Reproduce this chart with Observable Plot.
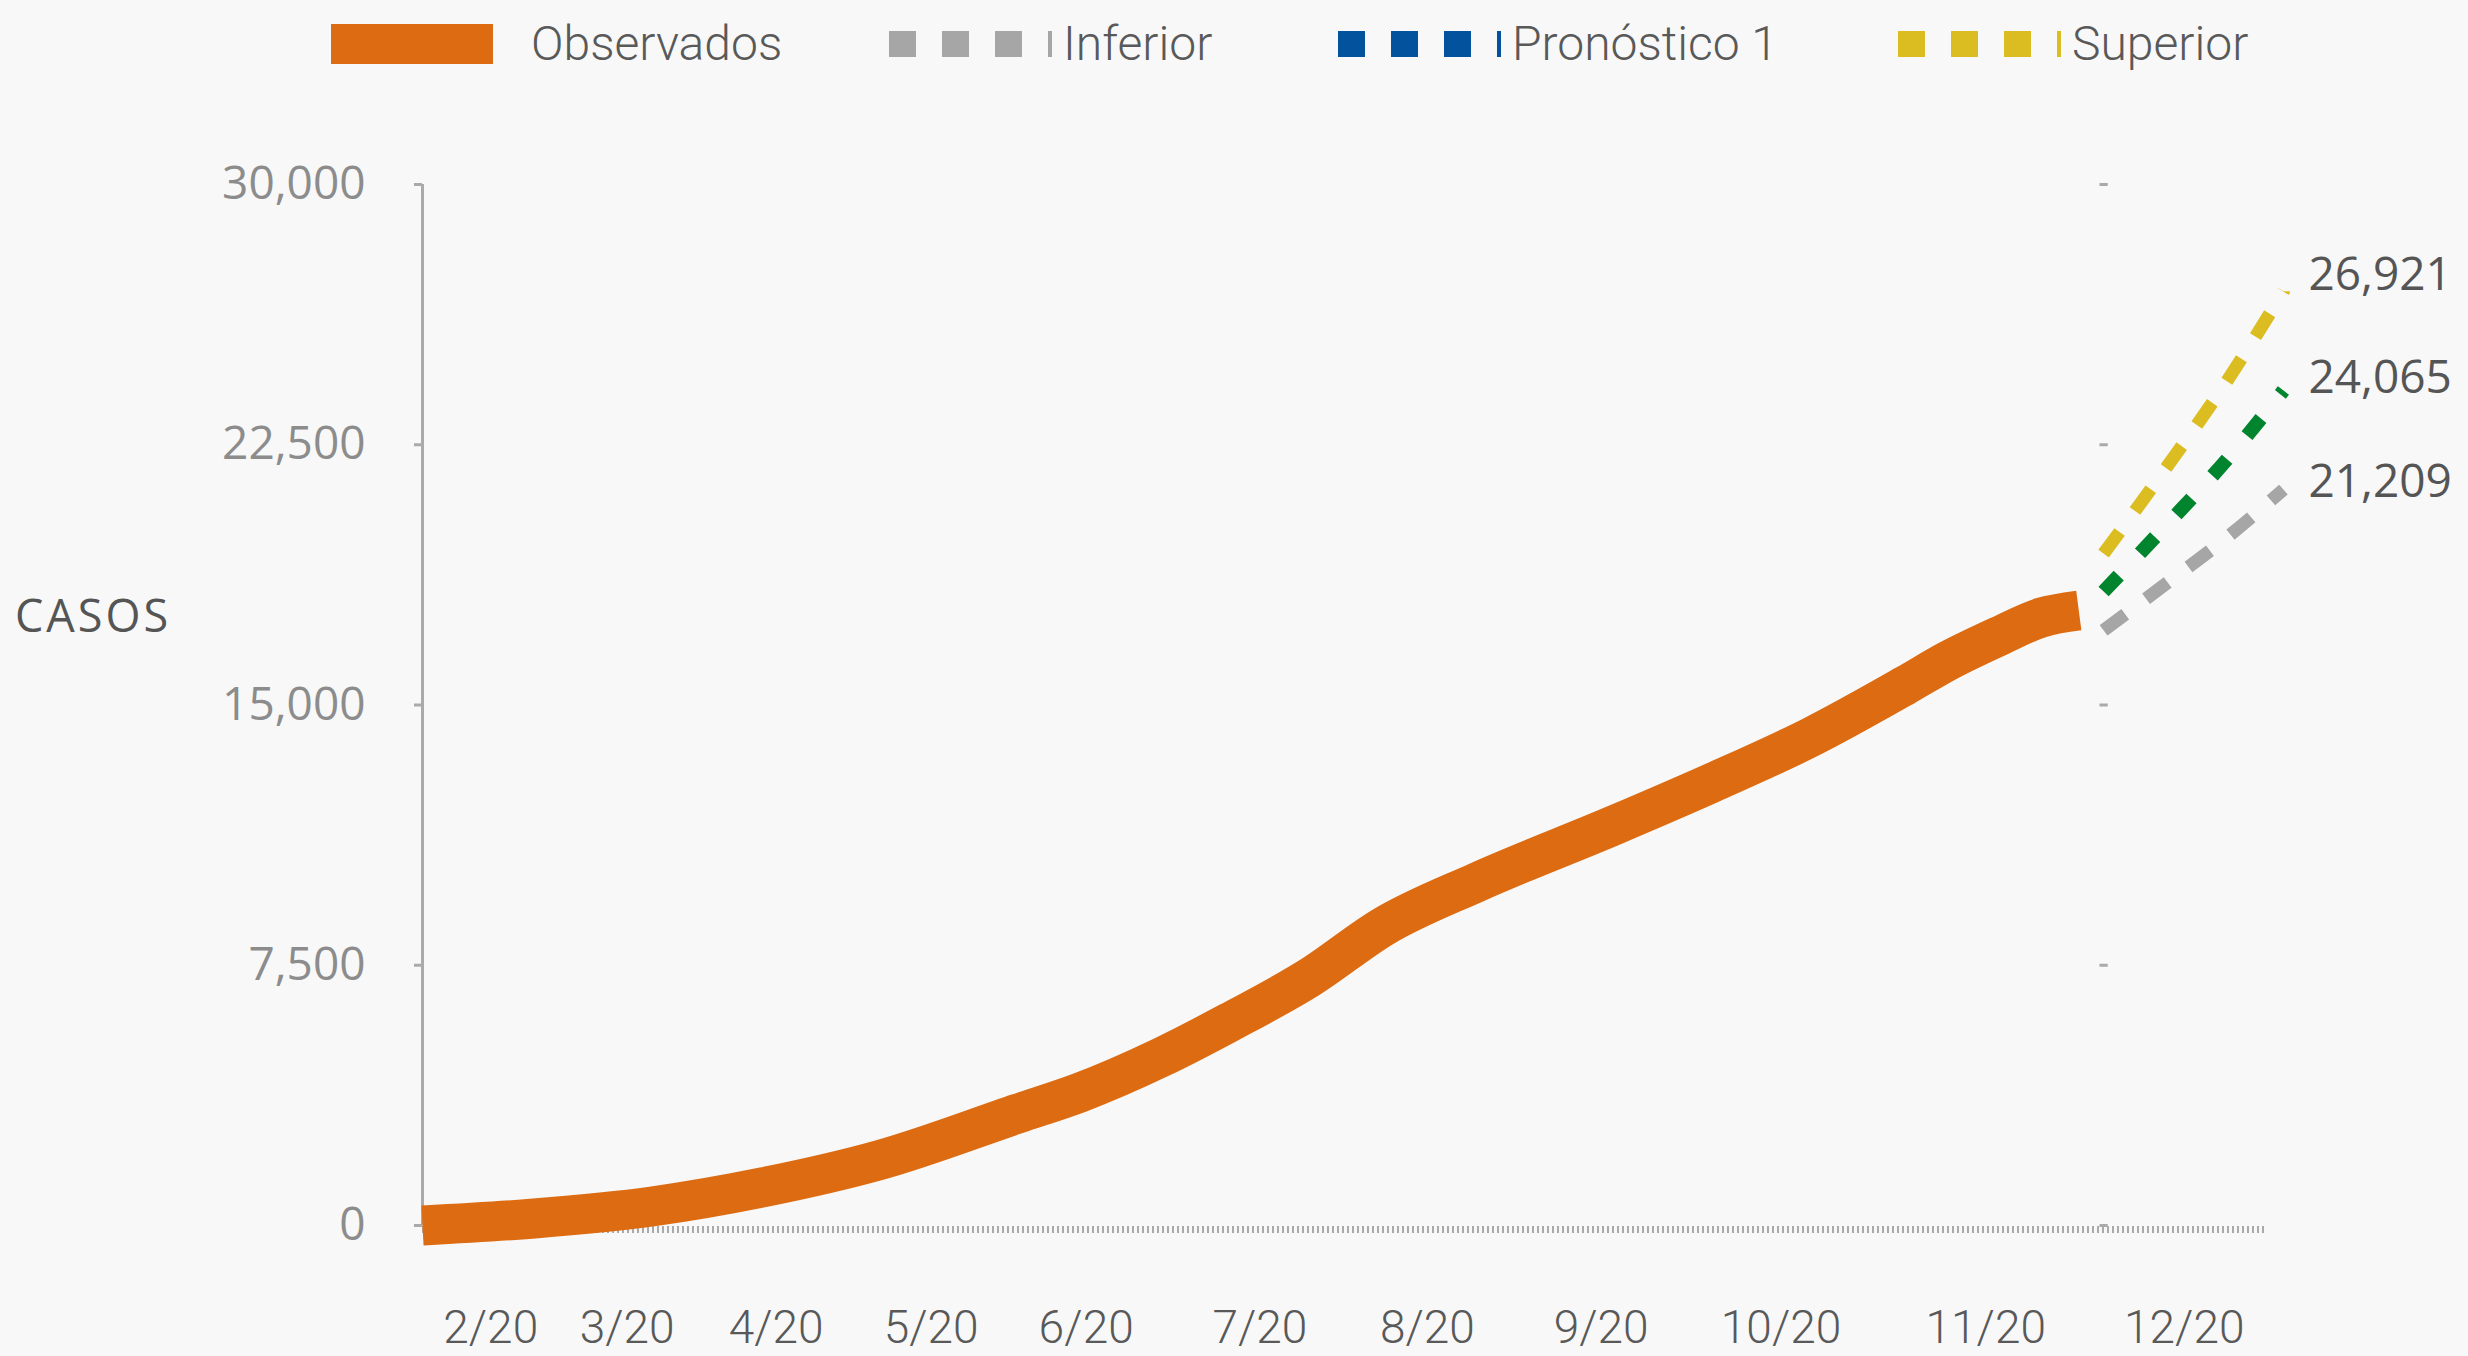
<!DOCTYPE html>
<html>
<head>
<meta charset="utf-8">
<script src="https://cdn.jsdelivr.net/npm/d3@7"></script>
<script src="https://cdn.jsdelivr.net/npm/@observablehq/plot@0.6"></script>
<style>
  html, body { margin: 0; padding: 0; background: #f8f8f8; }
  #wrap { position: relative; width: 2468px; height: 1356px; background: #f8f8f8; overflow: hidden; }
  #legend { display: block; }
  #chart svg { display: block; }
  #ylabel { position: absolute; left: 15px; top: 588px; font-family: "Open Sans", sans-serif; font-size: 45px; color: #555; letter-spacing: 3px; line-height: 54px; }
</style>
</head>
<body>
<div id="wrap">
  <svg id="legend" width="2468" height="88"></svg>
  <div id="chart"></div>
  <div id="ylabel">CASOS</div>
</div>
<script>
// ---------- data ----------
const xStart = "2020-02-27";
const xEnd = "2020-12-23";

const observedDates = ["2020-02-27", "2020-03-16", "2020-04-04", "2020-04-22", "2020-05-11", "2020-06-02",
  "2020-06-12", "2020-06-25", "2020-07-06", "2020-07-19", "2020-07-31", "2020-08-15", "2020-09-06",
  "2020-09-22", "2020-10-08", "2020-10-23", "2020-10-30", "2020-11-07", "2020-11-14", "2020-11-20"];
const observedCases = [0, 202, 548, 1104, 1902, 3228,
  3833, 4841, 5850, 7147, 8626, 9895, 11527,
  12767, 14092, 15562, 16282, 16975, 17522, 17723];

const forecastDates = ["2020-11-24", "2020-12-04", "2020-12-14", "2020-12-23"];
const inferior   = [17150, 18485, 19845, 21209];
const pronostico = [18270, 20160, 22100, 24065];
const superior   = [19360, 21815, 24365, 26921];

const zeroLineEnd = "2020-12-20";

const yTicks = [0, 7500, 15000, 22500, 30000];
const xTickDates  = ["2020-03-09", "2020-03-31", "2020-04-24", "2020-05-19", "2020-06-13", "2020-07-11",
  "2020-08-07", "2020-09-04", "2020-10-03", "2020-11-05", "2020-12-07"];
const xTickLabels = ["2/20", "3/20", "4/20", "5/20", "6/20", "7/20", "8/20", "9/20", "10/20", "11/20", "12/20"];

const legendLabels = ["Observados", "Inferior", "Pronóstico 1", "Superior"];

// ---------- colours ----------
const cOrange = "#dd6b11", cGray = "#a6a6a6", cGreen = "#00852e", cBlue = "#03529e", cYellow = "#dbbd22";

// ---------- build tables ----------
const parse = d3.utcParse("%Y-%m-%d");
const observed = observedDates.map((d, i) => ({date: parse(d), value: observedCases[i]}));
const mk = arr => forecastDates.map((d, i) => ({date: parse(d), value: arr[i]}));
const fInf = mk(inferior), fPro = mk(pronostico), fSup = mk(superior);
const last = a => [a[a.length - 1]];
const labelMap = new Map(xTickDates.map((d, i) => [+parse(d), xTickLabels[i]]));
const fcStart = parse(forecastDates[0]);
const endText = (arr, dy) => Plot.text(last(arr), {x: "date", y: "value", text: d => d3.format(",")(d.value),
  dx: 25, dy, textAnchor: "start", fontSize: 46, fontFamily: "Open Sans", fill: "#555555"});

const plot = Plot.plot({
  width: 2468,
  height: 1268,
  marginTop: 96,
  marginBottom: 131,
  marginLeft: 422,
  marginRight: 185,
  style: {background: "#f8f8f8", overflow: "visible"},
  x: {type: "utc", domain: [parse(xStart), parse(xEnd)], label: null},
  y: {domain: [0, 30000], label: null},
  marks: [
    Plot.axisY(yTicks, {tickSize: 8, tickPadding: 49, tickFormat: d3.format(","), fontSize: 46,
      fontFamily: "Open Sans", fill: "#8c8c8c", stroke: "#aaaaaa", strokeWidth: 3, label: null}),
    Plot.axisX([...labelMap.keys()].map(t => new Date(t)), {tickSize: 0, tickPadding: 85,
      tickFormat: d => labelMap.get(+d), fontSize: 46, fontFamily: "Roboto", fontWeight: 300,
      fill: "#595959", label: null}),
    Plot.ruleX([parse(xStart)], {y1: 0, y2: 30000, stroke: "#aaaaaa", strokeWidth: 3}),
    Plot.ruleY(yTicks, {y: d => d, x1: d3.utcHour.offset(fcStart, -14), x2: d3.utcHour.offset(fcStart, 18),
      stroke: "#aaaaaa", strokeWidth: 3}),
    Plot.ruleY([0], {x1: parse(xStart), x2: parse(zeroLineEnd), stroke: "#aaaaaa", strokeWidth: 7,
      strokeDasharray: "2,3", dy: 4}),
    Plot.line(fInf, {x: "date", y: "value", stroke: cGray, strokeWidth: 13, strokeDasharray: "27,26",
      strokeLinecap: "butt", curve: "monotone-x"}),
    Plot.line(fPro, {x: "date", y: "value", stroke: cGreen, strokeWidth: 14, strokeDasharray: "22,31",
      strokeLinecap: "butt", curve: "monotone-x"}),
    Plot.line(fSup, {x: "date", y: "value", stroke: cYellow, strokeWidth: 13, strokeDasharray: "27,26",
      strokeLinecap: "butt", curve: "monotone-x"}),
    Plot.line(observed, {x: "date", y: "value", stroke: cOrange, strokeWidth: 40, strokeLinecap: "butt",
      strokeLinejoin: "round", curve: "monotone-x"}),
    endText(fSup, -16),
    endText(fPro, -12),
    endText(fInf, -7)
  ]
});
document.getElementById("chart").appendChild(plot);

// ---------- legend ----------
const lg = d3.select("#legend");
const items = [
  {label: legendLabels[0], color: cOrange, solid: true, sx: 331, tx: 531},
  {label: legendLabels[1], color: cGray, solid: false, sx: 889, tx: 1063},
  {label: legendLabels[2], color: cBlue, solid: false, sx: 1338, tx: 1512},
  {label: legendLabels[3], color: cYellow, solid: false, sx: 1898, tx: 2072}
];
for (const it of items) {
  if (it.solid) {
    lg.append("rect").attr("x", it.sx).attr("y", 24).attr("width", 162).attr("height", 40).attr("fill", it.color);
  } else {
    lg.append("line").attr("x1", it.sx).attr("x2", it.sx + 163).attr("y1", 44).attr("y2", 44)
      .attr("stroke", it.color).attr("stroke-width", 26).attr("stroke-dasharray", "27,26");
  }
  lg.append("text").attr("x", it.tx).attr("y", 60).text(it.label)
    .attr("font-family", "Roboto").attr("font-weight", 300).attr("font-size", 48).attr("fill", "#595959");
}
</script>
</body>
</html>
